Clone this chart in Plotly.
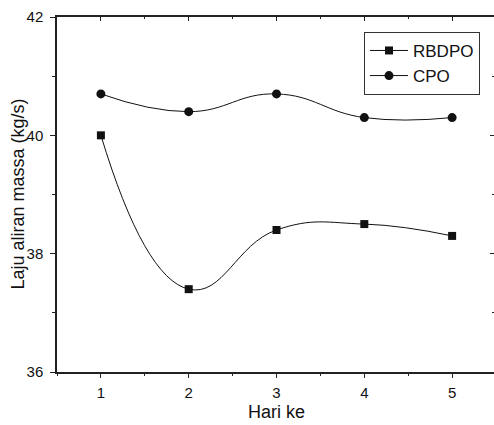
import plotly.graph_objects as go

# Measured mass flow rate per day
days = [1, 2, 3, 4, 5]
rbdpo = [40.0, 37.4, 38.4, 38.5, 38.3]
cpo = [40.7, 40.4, 40.7, 40.3, 40.3]

x_ticks = [1, 2, 3, 4, 5]
y_ticks = [36, 38, 40, 42]

x_title = "Hari ke"
y_title = "Laju aliran massa (kg/s)"

FONT = "Liberation Sans, Arial, sans-serif"
INK = "#111111"
AXIS = "#222222"

fig = go.Figure()
fig.add_trace(go.Scatter(
    x=days, y=rbdpo, name="RBDPO", mode="lines+markers",
    line=dict(color=INK, width=1, shape="spline", smoothing=1.3),
    marker=dict(symbol="square", size=8, color=INK),
))
fig.add_trace(go.Scatter(
    x=days, y=cpo, name="CPO", mode="lines+markers",
    line=dict(color=INK, width=1, shape="spline", smoothing=1.3),
    marker=dict(symbol="circle", size=9, color=INK),
))
# invisible carrier trace so the top/right frame axes are drawn
fig.add_trace(go.Scatter(
    x=days, y=cpo, xaxis="x2", yaxis="y2", mode="lines",
    line=dict(width=0), opacity=0, showlegend=False, hoverinfo="skip",
))

x_range = [0.5, 5.477]
y_range = [36, 42]

fig.update_layout(
    width=494, height=425,
    margin=dict(l=57, r=0, t=17, b=53),
    paper_bgcolor="white", plot_bgcolor="white",
    font=dict(family=FONT, size=15, color=INK),
    showlegend=True,
    legend=dict(
        x=0.7025, y=0.958, xanchor="left", yanchor="top",
        bgcolor="white", bordercolor="#333333", borderwidth=1,
        font=dict(family=FONT, size=17, color=INK),
        tracegroupgap=0, itemwidth=38,
    ),
    xaxis=dict(
        range=x_range, tickvals=x_ticks, ticks="outside", ticklen=4,
        tickwidth=1, tickcolor=AXIS,
        minor=dict(dtick=0.5, tick0=1, ticks="outside", ticklen=2.5, tickcolor=AXIS),
        showline=True, linecolor=AXIS, linewidth=1.5,
        showgrid=False, zeroline=False, automargin=False,
        tickfont=dict(size=15), ticklabelstandoff=2,
    ),
    yaxis=dict(
        range=y_range, tickvals=y_ticks, ticks="outside", ticklen=5,
        tickwidth=1, tickcolor=AXIS,
        minor=dict(dtick=1, tick0=36, ticks="outside", ticklen=3, tickcolor=AXIS),
        showline=True, linecolor=AXIS, linewidth=1.5,
        showgrid=False, zeroline=False, automargin=False,
        tickfont=dict(size=15), ticklabelstandoff=4,
    ),
    xaxis2=dict(
        overlaying="x", side="top", range=x_range, tickvals=x_ticks,
        ticks="inside", ticklen=4, tickwidth=1, tickcolor=AXIS,
        minor=dict(dtick=0.5, tick0=1, ticks="inside", ticklen=2.5, tickcolor=AXIS),
        showticklabels=False, showline=True, linecolor=AXIS, linewidth=1.5,
        showgrid=False, zeroline=False, automargin=False,
    ),
    yaxis2=dict(
        overlaying="y", side="right", range=y_range, tickvals=y_ticks,
        ticks="inside", ticklen=4, tickwidth=1, tickcolor=AXIS,
        minor=dict(dtick=1, tick0=36, ticks="inside", ticklen=2, tickcolor=AXIS),
        showticklabels=False, showline=False,
        showgrid=False, zeroline=False, automargin=False,
    ),
)

# axis titles placed as annotations for exact positioning
fig.add_annotation(
    text=x_title, xref="x", yref="paper", x=3, y=0,
    xanchor="center", yanchor="top", yshift=-29, borderpad=0,
    showarrow=False, font=dict(family=FONT, size=18, color=INK),
)
fig.add_annotation(
    text=y_title, xref="paper", yref="paper", x=0, y=0.5,
    xanchor="center", yanchor="middle", xshift=-40, textangle=-90,
    showarrow=False, font=dict(family=FONT, size=18, color=INK),
)

fig.write_html("out.html")
